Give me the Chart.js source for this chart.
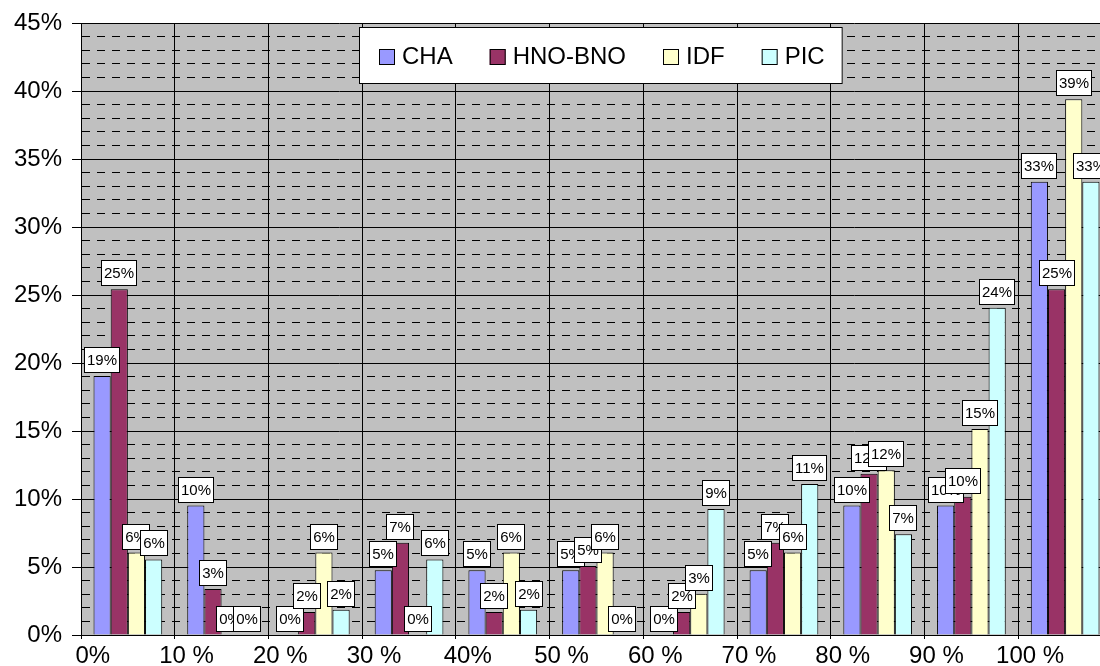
<!DOCTYPE html>
<html>
<head>
<meta charset="utf-8">
<script src="https://cdn.jsdelivr.net/npm/chart.js@4/dist/chart.umd.min.js"></script>
<style>
html,body{margin:0;padding:0;overflow:hidden;background:#fff;width:1100px;height:666px}
#wrap{position:relative;width:1114px;height:666px}
canvas{display:block}
</style>
</head>
<body>
<div id="wrap"><canvas id="c" width="1114" height="666"></canvas></div>
<script>
// ---- data ----
const categories = ["0%", "10 %", "20 %", "30 %", "40%", "50 %", "60 %", "70 %", "80 %", "90 %", "100 %"];
const seriesNames = ["CHA", "HNO-BNO", "IDF", "PIC"];
const chaValues = [19.05, 9.52, 0, 4.76, 4.76, 4.76, 0, 4.76, 9.52, 9.52, 33.33];
const hnoValues = [25.42, 3.39, 1.69, 6.78, 1.69, 5.08, 1.69, 6.78, 11.86, 10.17, 25.42];
const idfValues = [6.06, 0, 6.06, 0, 6.06, 6.06, 3.03, 6.06, 12.12, 15.15, 39.39];
const picValues = [5.56, 0, 1.85, 5.56, 1.85, 0, 9.26, 11.11, 7.41, 24.07, 33.33];
const yMin = 0, yMax = 45, yMinorStep = 1, yMajorStep = 5;

// ---- styles ----
const FONT = '"Liberation Sans", Arial, sans-serif';
const seriesColors = ["#9999FF", "#993366", "#FFFFCC", "#CCFFFF"];
const allValues = [chaValues, hnoValues, idfValues, picValues];

const plotBg = {
  id: 'plotBg',
  beforeDraw(chart) {
    const a = chart.chartArea, ctx = chart.ctx;
    ctx.save();
    ctx.fillStyle = '#C0C0C0';
    ctx.fillRect(a.left, a.top, a.right - a.left, a.bottom - a.top);
    ctx.restore();
  }
};

const barLabels = {
  id: 'barLabels',
  afterDatasetsDraw(chart) {
    const ctx = chart.ctx;
    ctx.save();
    ctx.font = '15px ' + FONT;
    ctx.textAlign = 'center';
    ctx.textBaseline = 'middle';
    chart.data.datasets.forEach((ds, i) => {
      const meta = chart.getDatasetMeta(i);
      meta.data.forEach((el, j) => {
        const v = ds.data[j];
        const txt = Math.round(v) + '%';
        const w = Math.round(ctx.measureText(txt).width + 6);
        const h = 26;
        const x = Math.round(el.x - w / 2);
        const y = Math.round(el.y - 3 - h);
        ctx.fillStyle = '#fff';
        ctx.fillRect(x, y, w, h);
        ctx.strokeStyle = '#000';
        ctx.lineWidth = 1;
        ctx.strokeRect(x + 0.5, y + 0.5, w - 1, h - 1);
        ctx.fillStyle = '#000';
        ctx.fillText(txt, x + w / 2, y + h / 2 + 1);
      });
    });
    ctx.restore();
  }
};

const legendBox = {
  id: 'legendBox',
  afterDraw(chart) {
    const ctx = chart.ctx;
    const x0 = 359, y0 = 27, h = 57, padL = 20, padR = 18, sw = 16, swGap = 7, itemGap = 37;
    ctx.save();
    ctx.font = '24px ' + FONT;
    const items = chart.data.datasets.map(d => ({ label: d.label, color: d.backgroundColor, w: ctx.measureText(d.label).width }));
    let total = padL + padR;
    items.forEach((it, i) => { total += sw + swGap + it.w + (i < items.length - 1 ? itemGap : 0); });
    ctx.fillStyle = '#fff';
    ctx.fillRect(x0, y0, total, h);
    ctx.strokeStyle = '#000';
    ctx.lineWidth = 1;
    ctx.strokeRect(x0 + 0.5, y0 + 0.5, total - 1, h - 1);
    let x = x0 + padL;
    const cy = y0 + 30;
    ctx.textAlign = 'left';
    ctx.textBaseline = 'middle';
    items.forEach(it => {
      ctx.fillStyle = it.color;
      ctx.fillRect(x, cy - sw / 2, sw, sw);
      ctx.strokeStyle = '#000';
      ctx.strokeRect(x + 0.5, cy - sw / 2 + 0.5, sw - 1, sw - 1);
      ctx.fillStyle = '#000';
      ctx.fillText(it.label, x + sw + swGap, cy);
      x += sw + swGap + it.w + itemGap;
    });
    ctx.restore();
  }
};

new Chart(document.getElementById('c'), {
  type: 'bar',
  data: {
    labels: categories,
    datasets: seriesNames.map((name, i) => ({
      label: name,
      data: allValues[i],
      backgroundColor: seriesColors[i],
      borderColor: '#000',
      borderWidth: 1,
      categoryPercentage: 0.733,
      barPercentage: 1.0
    }))
  },
  options: {
    responsive: false,
    animation: false,
    devicePixelRatio: 1,
    layout: { padding: { top: 23, right: 2, bottom: 0, left: 0 } },
    plugins: { legend: { display: false }, tooltip: { enabled: false } },
    scales: {
      x: {
        type: 'category',
        offset: true,
        grid: { offset: true, color: '#000', lineWidth: 1, tickLength: 4 },
        border: { display: true, color: '#000', width: 1 },
        ticks: { font: { size: 24, family: FONT }, color: '#000', padding: 3, labelOffset: -35, autoSkip: false, maxRotation: 0, minRotation: 0 },
        afterFit(s) { s.height = 31; s.paddingLeft = 0; s.paddingRight = 0; }
      },
      y: {
        min: yMin, max: yMax,
        ticks: {
          stepSize: yMinorStep, autoSkip: false, maxTicksLimit: 100,
          callback: v => (v % yMajorStep === 0 ? v + '%' : ''),
          font: { size: 24, family: FONT }, color: '#000', padding: 10
        },
        grid: {
          color: '#000', lineWidth: 1, tickLength: 9,
          tickColor: c => (c.tick && c.tick.value % yMajorStep === 0 ? '#000' : 'rgba(0,0,0,0)')
        },
        border: {
          display: true, color: '#000', width: 1,
          dash: c => (c.tick && c.tick.value % yMajorStep !== 0 ? [8, 7] : [])
        },
        afterFit(s) { s.width = 81; s.paddingTop = 0; s.paddingBottom = 0; }
      }
    }
  },
  plugins: [plotBg, barLabels, legendBox]
});
</script>
</body>
</html>
